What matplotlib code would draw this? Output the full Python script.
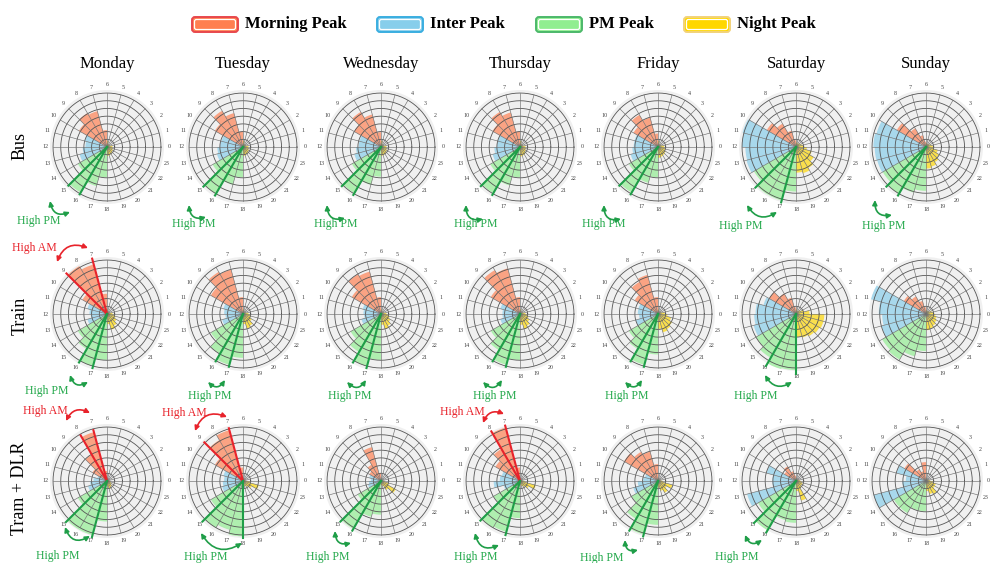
import numpy as np
import matplotlib
matplotlib.use("Agg")
import matplotlib.pyplot as plt
from matplotlib.patches import FancyBboxPatch

# ---- data (radius in ring units, outer ring = 8) ----
days = ["Monday", "Tuesday", "Wednesday", "Thursday", "Friday", "Saturday", "Sunday"]
modes = ["Bus", "Train", "Tram + DLR"]
hours = np.arange(24)
# peak period of each hourly wedge
hour_peak = (["Night"] * 6 + ["Morning"] * 4 + ["Inter"] * 4 + ["PM"] * 4 + ["Night"] * 6)

bus = [
    [0.8, 0.5, 0.4, 0.4, 0.5, 0.9, 2.5, 5.5, 5.8, 4.8, 3.4, 3.2, 3.6, 4.2, 5.0, 7.8, 6.0, 4.5, 1.3, 1.2, 1.1, 1.0, 0.9, 0.8],
    [0.8, 0.5, 0.4, 0.4, 0.5, 0.9, 2.3, 5.2, 6.2, 4.8, 3.3, 3.4, 3.8, 4.0, 5.2, 8.0, 5.8, 4.5, 1.3, 1.2, 1.1, 1.0, 0.9, 0.8],
    [0.8, 0.5, 0.4, 0.4, 0.5, 0.9, 2.2, 5.0, 6.0, 4.6, 3.3, 3.3, 3.7, 4.1, 5.0, 7.9, 5.8, 4.4, 1.3, 1.2, 1.1, 1.0, 0.9, 0.8],
    [0.8, 0.5, 0.4, 0.4, 0.5, 0.9, 2.3, 5.3, 6.0, 4.7, 3.4, 3.4, 3.8, 4.2, 5.1, 7.9, 5.9, 4.5, 1.4, 1.3, 1.2, 1.0, 0.9, 0.8],
    [0.9, 0.6, 0.4, 0.4, 0.5, 0.9, 2.0, 4.5, 5.5, 4.2, 3.6, 3.6, 3.8, 4.2, 5.0, 7.8, 5.5, 4.5, 1.6, 1.5, 1.4, 1.3, 1.1, 1.0],
    [1.2, 0.9, 0.7, 0.6, 0.6, 0.7, 1.0, 2.5, 4.0, 5.0, 8.2, 8.0, 7.5, 7.6, 7.2, 8.2, 8.2, 6.6, 3.8, 4.0, 3.6, 3.0, 2.4, 1.6],
    [1.0, 0.8, 0.6, 0.5, 0.5, 0.6, 0.8, 1.8, 3.2, 5.0, 7.6, 7.8, 7.6, 7.5, 7.4, 8.0, 7.0, 6.5, 3.2, 3.0, 2.6, 2.2, 1.8, 1.2],
]
train = [
    [0.8, 0.5, 0.3, 0.3, 0.4, 0.7, 3.0, 7.6, 8.2, 4.2, 3.0, 2.6, 2.4, 3.0, 5.0, 6.0, 8.0, 6.8, 1.5, 2.4, 2.0, 1.6, 1.3, 1.0],
    [0.8, 0.5, 0.3, 0.3, 0.4, 0.7, 2.5, 6.8, 7.2, 5.5, 3.0, 2.8, 2.6, 3.2, 5.5, 6.8, 7.8, 6.5, 1.5, 2.2, 2.0, 1.5, 1.2, 1.0],
    [0.8, 0.5, 0.3, 0.3, 0.4, 0.7, 2.5, 6.5, 6.8, 5.0, 2.8, 2.6, 2.5, 3.0, 5.2, 6.5, 8.0, 6.8, 1.6, 2.3, 2.0, 1.6, 1.3, 1.0],
    [0.8, 0.5, 0.3, 0.3, 0.4, 0.7, 2.5, 7.0, 7.5, 5.0, 3.0, 2.6, 2.6, 3.0, 5.0, 6.2, 7.8, 6.8, 1.6, 2.3, 2.0, 1.6, 1.3, 1.0],
    [1.0, 0.6, 0.4, 0.3, 0.4, 0.7, 2.5, 6.0, 5.5, 4.0, 3.0, 3.0, 2.8, 3.4, 5.0, 6.0, 7.8, 6.0, 2.2, 2.8, 2.6, 2.4, 2.0, 1.4],
    [2.0, 1.2, 0.8, 0.6, 0.5, 0.7, 1.0, 2.5, 3.5, 4.6, 5.0, 6.0, 6.2, 6.5, 6.8, 7.5, 8.6, 8.3, 3.4, 3.6, 3.8, 4.0, 4.2, 4.2],
    [1.2, 0.9, 0.6, 0.5, 0.5, 0.6, 1.0, 2.0, 3.0, 3.8, 8.5, 7.0, 6.5, 6.8, 7.5, 7.8, 6.5, 5.5, 2.4, 2.2, 2.0, 1.8, 1.6, 1.4],
]
tram = [
    [0.4, 0.3, 0.2, 0.2, 0.3, 0.5, 1.5, 7.5, 4.5, 2.5, 1.5, 2.0, 2.5, 2.9, 5.0, 8.3, 8.3, 6.0, 0.8, 1.2, 1.0, 0.8, 0.6, 0.5],
    [0.4, 0.2, 0.2, 0.2, 0.3, 0.4, 2.0, 7.8, 7.0, 4.8, 3.0, 2.8, 3.0, 3.2, 5.5, 8.0, 7.5, 8.2, 0.5, 0.8, 1.0, 1.5, 2.4, 1.0],
    [0.3, 0.2, 0.2, 0.2, 0.3, 0.4, 1.2, 5.2, 2.8, 2.0, 1.8, 1.5, 1.8, 2.0, 4.0, 8.2, 5.5, 5.0, 0.6, 0.8, 1.5, 2.5, 1.2, 0.6],
    [0.4, 0.2, 0.2, 0.2, 0.3, 0.4, 2.0, 8.2, 5.5, 4.2, 2.8, 3.0, 3.9, 2.5, 4.5, 8.0, 7.8, 5.5, 0.5, 0.8, 1.0, 1.5, 2.4, 0.8],
    [0.5, 0.3, 0.2, 0.2, 0.3, 0.5, 2.5, 4.5, 5.0, 5.8, 2.0, 2.2, 3.0, 3.8, 4.5, 6.5, 8.2, 6.5, 1.0, 1.5, 2.0, 1.5, 2.2, 0.8],
    [0.6, 0.4, 0.3, 0.3, 0.3, 0.4, 0.8, 1.5, 2.5, 2.0, 4.5, 3.5, 3.5, 7.5, 6.5, 8.5, 6.0, 6.2, 1.5, 3.0, 1.2, 1.0, 1.0, 0.8],
    [0.6, 0.4, 0.3, 0.3, 0.3, 0.4, 2.8, 1.5, 2.0, 3.7, 4.5, 3.0, 3.5, 8.0, 5.5, 5.5, 4.5, 4.5, 1.5, 2.0, 2.2, 1.5, 1.5, 1.0],
]

# highlighted peak spans: (kind, first spoke hour, last spoke hour)
bus_marks = [[("PM", 15, 16)], [("PM", 15, 16)], [("PM", 15, 16)], [("PM", 15, 16)],
             [("PM", 15, 16)], [("PM", 15, 17)], [("PM", 15, 16)]]
train_marks = [[("AM", 7, 9), ("PM", 16, 17)], [("PM", 16, 17)], [("PM", 16, 17)], [("PM", 16, 17)],
               [("PM", 16, 17)], [("PM", 16, 18)], []]
tram_marks = [[("AM", 7, 8), ("PM", 15, 17)], [("AM", 7, 9), ("PM", 15, 18)], [("PM", 15, 16)],
              [("AM", 7, 8), ("PM", 15, 17)], [("PM", 16, 17)], [("PM", 15, 16)], []]

# ---- style / layout ----
peak_names = ["Morning", "Inter", "PM", "Night"]
peak_fill = {"Morning": "#ff7f50", "Inter": "#87ceeb", "PM": "#90ee90", "Night": "#ffd700"}
peak_edge = {"Morning": "#e8474c", "Inter": "#3aaee0", "PM": "#4cb86a", "Night": "#f2d27a"}
legend_x = {"Morning": 192, "Inter": 377, "PM": 536, "Night": 684}
mark_color = {"AM": "#e8232b", "PM": "#1f9e48"}
text_color = {"AM": "#e8232b", "PM": "#22a84a"}

W, H = 990, 563
col_x = [107, 243, 381, 520, 658, 796, 926]
row_y = [147, 314, 481]
R_PX = 57
RMAX = 8.45
N_RINGS = 7
LABEL_R = 9.2
serif = "Liberation Serif"

# annotation layout in pixels: text x, text y, arrow x1, y1, x2, y2, curvature
annots = {
    (0, 0, "PM"): (39, 221, 50, 201, 70, 212, 0.6),
    (0, 1, "PM"): (194, 224, 189, 205, 206, 217, 0.6),
    (0, 2, "PM"): (336, 224, 327, 205, 345, 218, 0.6),
    (0, 3, "PM"): (476, 224, 466, 205, 483, 219, 0.6),
    (0, 4, "PM"): (604, 224, 604, 205, 621, 219, 0.6),
    (0, 5, "PM"): (741, 226, 747, 205, 777, 212, 0.5),
    (0, 6, "PM"): (884, 226, 875, 200, 892, 215, 0.6),
    (1, 0, "AM"): (34, 248, 57, 262, 88, 248, -0.5),
    (1, 0, "PM"): (47, 391, 70, 375, 88, 382, 0.6),
    (1, 1, "PM"): (210, 396, 208, 382, 225, 380, 0.6),
    (1, 2, "PM"): (350, 396, 347, 382, 366, 380, 0.6),
    (1, 3, "PM"): (495, 396, 483, 382, 502, 380, 0.6),
    (1, 4, "PM"): (627, 396, 625, 382, 642, 380, 0.6),
    (1, 5, "PM"): (756, 396, 765, 375, 792, 382, 0.5),
    (2, 0, "AM"): (45, 411, 66, 421, 90, 413, -0.5),
    (2, 0, "PM"): (58, 556, 65, 527, 90, 536, 0.6),
    (2, 1, "AM"): (184, 413, 195, 431, 227, 417, -0.5),
    (2, 1, "PM"): (206, 557, 201, 533, 242, 543, 0.5),
    (2, 2, "PM"): (328, 557, 335, 531, 351, 543, 0.6),
    (2, 3, "AM"): (462, 412, 483, 423, 504, 414, -0.5),
    (2, 3, "PM"): (476, 557, 475, 533, 499, 545, 0.6),
    (2, 4, "PM"): (602, 558, 625, 540, 638, 550, 0.6),
    (2, 5, "PM"): (737, 557, 745, 535, 762, 540, 0.6),
}

fig = plt.figure(figsize=(W / 100, H / 100), dpi=100)

all_vals = [bus, train, tram]
all_marks = [bus_marks, train_marks, tram_marks]
theta = np.deg2rad(hours * 15 + 7.5)
circ = np.linspace(0, 2 * np.pi, 241)
bar_cols = [peak_fill[p] for p in hour_peak]

for r in range(3):
    for c in range(7):
        cx, cy = col_x[c], row_y[r]
        ax = fig.add_axes([(cx - R_PX) / W, 1 - (cy + R_PX) / H, 2 * R_PX / W, 2 * R_PX / H],
                          projection="polar")
        ax.set_ylim(0, RMAX)
        ax.set_facecolor("#f0f0f0")
        ax.spines["polar"].set_visible(False)
        ax.set_xticks([])
        ax.set_yticks([])
        ax.grid(False)

        vals = np.array(all_vals[r][c])
        ax.bar(theta, vals, width=np.deg2rad(15), color=bar_cols, alpha=0.68,
               edgecolor="none", zorder=1)

        for k in range(1, N_RINGS + 1):
            ax.plot(circ, np.full_like(circ, 8 * k / N_RINGS), color="#555555", lw=0.6, zorder=2)
        for h in hours:
            t = np.deg2rad(h * 15)
            ax.plot([t, t], [0, 8], color="#707070", lw=0.45, zorder=2)
            ax.text(t, LABEL_R, str(h), fontsize=4.3, ha="center", va="center",
                    family=serif, color="#444444")

        for kind, h1, h2 in all_marks[r][c]:
            length = vals[h1:h2].max() + 0.3
            for h in (h1, h2):
                t = np.deg2rad(h * 15)
                ax.plot([t, t], [0, length], color=mark_color[kind], lw=1.5,
                        zorder=3, clip_on=False)

# overlay in pixel coordinates for titles, legend and annotations
ov = fig.add_axes([0, 0, 1, 1])
ov.set_xlim(0, W)
ov.set_ylim(H, 0)
ov.axis("off")
ov.patch.set_visible(False)

for c, d in enumerate(days):
    ov.text(col_x[c], 64, d, fontsize=12, ha="center", va="center", family=serif)
for r, m in enumerate(modes):
    ov.text(20, [146, 316, 488][r], m, fontsize=13, rotation=90, ha="center", va="center",
            family=serif)

for p in peak_names:
    bx = legend_x[p]
    ov.add_patch(FancyBboxPatch((bx, 17), 46, 15, boxstyle="round,pad=0,rounding_size=3",
                                fc=peak_fill[p], ec=peak_edge[p], lw=1.4))
    ov.add_patch(FancyBboxPatch((bx + 2.5, 19.5), 41, 10, boxstyle="round,pad=0,rounding_size=2",
                                fc=peak_fill[p], ec="white", lw=0.9))
    ov.text(bx + 53, 24.5, p + " Peak", fontsize=12, fontweight="bold", va="center",
            family=serif)

for (r, c, kind), (tx, ty, x1, y1, x2, y2, rad) in annots.items():
    ov.text(tx, ty, "High " + kind, fontsize=8.5, ha="center", va="center",
            color=text_color[kind], family=serif)
    ov.annotate("", xy=(x2, y2), xytext=(x1, y1),
                arrowprops=dict(arrowstyle="<|-|>", color=mark_color[kind], lw=1.2,
                                mutation_scale=7, shrinkA=0, shrinkB=0,
                                connectionstyle="arc3,rad=%s" % rad))

fig.savefig("out.png", dpi=100)
